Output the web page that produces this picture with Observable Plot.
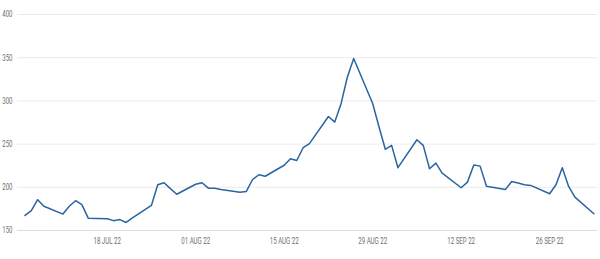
<!DOCTYPE html>
<html>
<head>
<meta charset="utf-8">
<script src="https://cdn.jsdelivr.net/npm/d3@7"></script>
<script src="https://cdn.jsdelivr.net/npm/@observablehq/plot@0.6"></script>
<style>
  html, body { margin: 0; padding: 0; background: #fff; }
  #chart svg { display: block; }
</style>
</head>
<body>
<div id="chart"></div>
<script>
const dates = [
  "2022-07-05","2022-07-06","2022-07-07","2022-07-08","2022-07-11","2022-07-12","2022-07-13","2022-07-14","2022-07-15",
  "2022-07-18","2022-07-19","2022-07-20","2022-07-21","2022-07-22","2022-07-25","2022-07-26","2022-07-27","2022-07-28","2022-07-29",
  "2022-08-01","2022-08-02","2022-08-03","2022-08-04","2022-08-05","2022-08-08","2022-08-09","2022-08-10","2022-08-11","2022-08-12",
  "2022-08-15","2022-08-16","2022-08-17","2022-08-18","2022-08-19","2022-08-22","2022-08-23","2022-08-24","2022-08-25","2022-08-26",
  "2022-08-29","2022-08-30","2022-08-31","2022-09-01","2022-09-02","2022-09-05","2022-09-06","2022-09-07","2022-09-08","2022-09-09",
  "2022-09-12","2022-09-13","2022-09-14","2022-09-15","2022-09-16","2022-09-19","2022-09-20","2022-09-21","2022-09-22","2022-09-23",
  "2022-09-26","2022-09-27","2022-09-28","2022-09-29","2022-09-30","2022-10-03"
];
const values = [
  167.4,173,185.6,178,169,178,184.5,180,164.3,
  163.5,161.4,162.6,159.3,164.5,179,203,205.3,198.5,192,
  203.5,205.3,199,198.8,197.5,194.3,195,209,214.5,212.8,
  225.5,233,231,245.8,250.5,282,275.5,296.8,327.7,349,
  297,270,244,248.5,222.7,255,248.5,221.5,228,216.4,
  199.5,206,225.7,224.5,201.3,197.5,206.8,205,203,202.2,
  192.5,203,222.7,201,188.6,169.4
];
const xTickDates = ["2022-07-18","2022-08-01","2022-08-15","2022-08-29","2022-09-12","2022-09-26"];
const yTicks = [150, 200, 250, 300, 350, 400];

const parse = d3.utcParse("%Y-%m-%d");
const data = dates.map((d, i) => ({date: parse(d), value: values[i]}));
const fmt = d3.utcFormat("%d %b %y");

const font = "'Liberation Sans Narrow', 'Roboto', sans-serif";

const chart = Plot.plot({
  width: 600,
  height: 259,
  marginTop: 14,
  marginBottom: 29,
  marginLeft: 17,
  marginRight: 3,
  style: {fontFamily: font, fontSize: "9px", color: "#6f6f6f", background: "#fff"},
  x: {
    type: "utc",
    domain: [new Date(Date.UTC(2022, 6, 3, 19, 30)), new Date(Date.UTC(2022, 9, 3, 13, 40))],
    ticks: xTickDates.map(parse),
    tickFormat: d => fmt(d).toUpperCase(),
    tickSize: 0,
    tickPadding: 7,
    label: null
  },
  y: {
    domain: [150, 400],
    ticks: yTicks,
    tickSize: 0,
    tickPadding: 5,
    label: null
  },
  marks: [
    Plot.ruleY(yTicks.filter(v => v > 150), {stroke: "#ebebeb", strokeWidth: 1}),
    Plot.ruleY([150], {stroke: "#dcdcdc", strokeWidth: 1.2}),
    Plot.line(data, {x: "date", y: "value", stroke: "#2a64a3", strokeWidth: 1.5})
  ]
});
document.getElementById("chart").appendChild(chart);

// condense the tick label glyphs to mimic the narrow typeface of the reference
d3.select(chart).selectAll("text").each(function() {
  const len = this.getComputedTextLength();
  if (len > 0) {
    this.setAttribute("textLength", (len * 0.68).toFixed(1));
    this.setAttribute("lengthAdjust", "spacingAndGlyphs");
  }
});
</script>
</body>
</html>
